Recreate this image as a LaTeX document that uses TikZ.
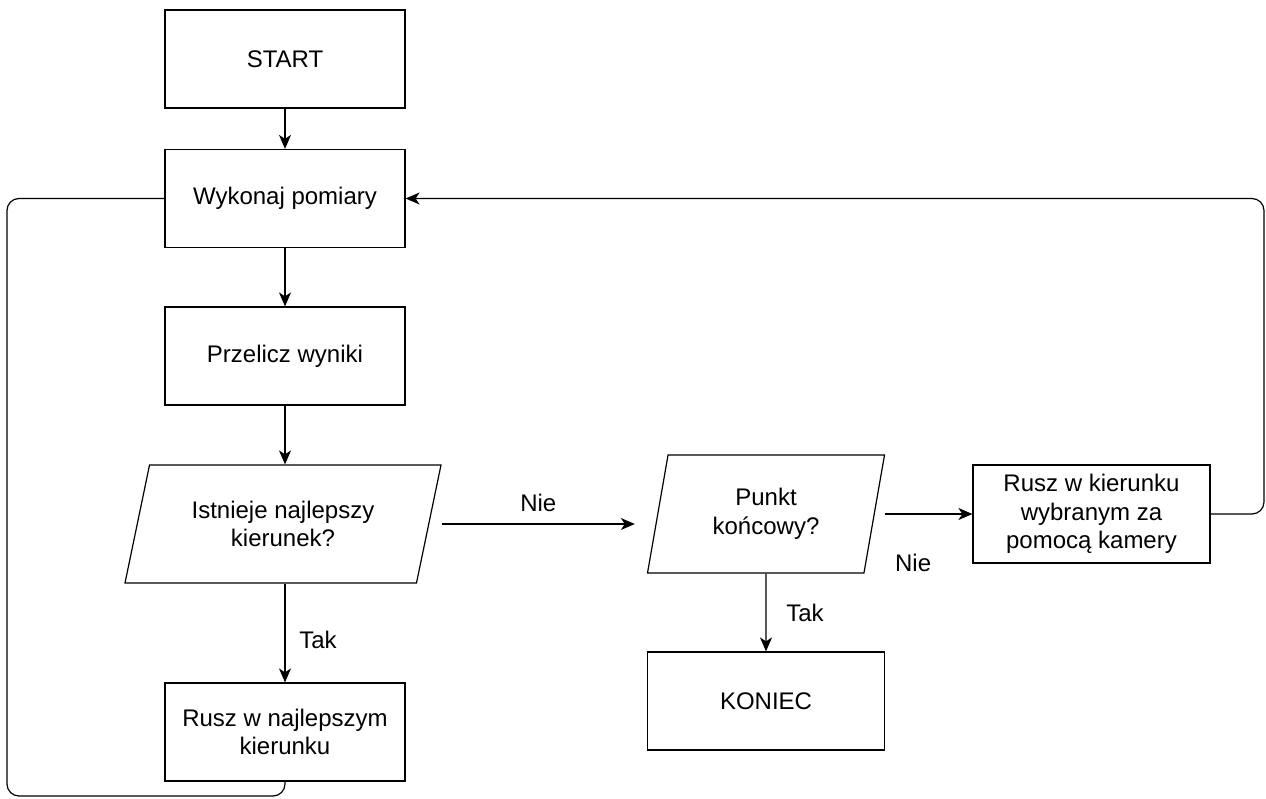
\documentclass[tikz,border=0pt]{standalone}
\usepackage{fontspec}
\setmainfont{Liberation Sans}
\usetikzlibrary{shapes.geometric,arrows.meta}

\begin{document}
\begin{tikzpicture}[x=1pt, y=-1pt,
  -{Stealth[length=14pt, width=12pt, inset=4pt]},
  line width=1.2pt,
  font=\fontsize{24}{28.5}\selectfont,
  block/.style = { draw, rectangle, minimum width=240pt, minimum height=98pt,
                   align=center, inner sep=0pt },
  query/.style = { draw, trapezium, trapezium stretches body,
                   minimum height=118pt, align=center, inner sep=0pt },
  tag/.style   = { draw=none, inner sep=0pt }]
  \useasboundingbox (0,0) rectangle (1266,798);

  % main column
  \node [block] (start) at (285,59)    {START};
  \node [block] (pomiar) at (285,198.5) {Wykonaj pomiary};
  \node [block] (wyniki) at (285,356)   {Przelicz wyniki};
  \node [query, minimum width=316pt, trapezium left angle=62,
         trapezium right angle=118] (najlep) at (283,524)
        {Istnieje najlepszy\\kierunek?};
  \node [block] (ruszN) at (285,732) {Rusz w najlepszym\\kierunku};

  % right part
  \node [query, minimum width=237pt, trapezium left angle=68,
         trapezium right angle=112] (koniecQ) at (766,514)
        {Punkt\\końcowy?};
  \node [block, minimum width=237pt] (koniec) at (766,701) {KONIEC};
  \node [block, minimum width=237pt] (ruszK) at (1091.5,514)
        {Rusz w kierunku\\wybranym za\\pomocą kamery};

  \coordinate (loopL) at (7,796);
  \coordinate (loopR) at (1264,350);

  \path
    (start)  edge (pomiar)
    (pomiar) edge (wyniki)
    (wyniki.south) edge (wyniki.south |- najlep.north)
    (ruszN.north |- najlep.south) edge node [tag, pos=0.57, xshift=33pt] {Tak} (ruszN.north)
    (najlep.top right corner |- najlep.center)
      edge node [tag, yshift=21pt] {Nie}
      ([xshift=-12pt]koniecQ.bottom left corner |- najlep.center)
    (koniecQ.top right corner |- koniecQ.center)
      edge node [tag, pos=0.32, yshift=-49pt] {Nie} (ruszK.west)
    (koniecQ.south) edge node [tag, xshift=39pt] {Tak} (koniec.north);

  % loops back to the measurement
  \draw [-, rounded corners=12pt] (ruszN.south) |- (loopL) |- (pomiar.west);
  \draw [rounded corners=12pt] (ruszK.east) -| (loopR) |- (pomiar.east);
\end{tikzpicture}
\end{document}
